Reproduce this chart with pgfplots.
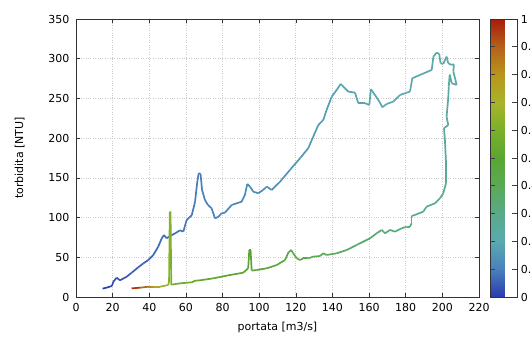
\documentclass[border=0pt]{standalone}
\usepackage{pgfplots}
\pgfplotsset{compat=1.18}
\usepackage{fontspec}
\setmainfont{DejaVu Sans}
\pgfplotsset{colormap={tb}{rgb255(0cm)=(42,58,176); rgb255(1cm)=(74,128,187); rgb255(2cm)=(90,170,176); rgb255(3cm)=(90,170,138); rgb255(4cm)=(90,170,85); rgb255(5cm)=(90,166,50); rgb255(6cm)=(122,176,42); rgb255(7cm)=(168,180,42); rgb255(8cm)=(184,149,28); rgb255(9cm)=(181,97,26); rgb255(10cm)=(168,28,8)}}
\begin{document}
\begin{tikzpicture}
\clip (-76pt,-46pt) rectangle (456pt,297pt);
\begin{axis}[
  at={(0,0)}, anchor=south west,
  scale only axis, width=403pt, height=278pt,
  xmin=0, xmax=220, ymin=0, ymax=350,
  xtick={0,20,...,220}, ytick={0,50,...,350},
  tick align=inside, xtick pos=both, ytick pos=both,
  major tick length=4pt,
  grid=major,
  grid style={dotted, gray!40, line width=0.7pt},
  axis line style={black!80, line width=0.6pt},
  tick style={black!80, line width=0.6pt},
  font=\fontsize{11}{13}\selectfont,
  /pgf/number format/assume math mode=true,
  xticklabel style={yshift=-3pt},
  yticklabel style={xshift=-3pt},
  xlabel={portata [m3/s]}, ylabel={torbidita [NTU]},
  xlabel style={at={(axis description cs:0.5,-0.108)}, anchor=center},
  ylabel style={at={(axis description cs:-0.14,0.5)}, anchor=center, rotate=0},
  colormap name=tb,
  point meta min=0, point meta max=1,
  colorbar,
  colorbar style={
    width=27pt,
    xshift=-11pt,
    ytick={0,0.1,...,1},
    yticklabels={0,0.1,0.2,0.3,0.4,0.5,0.6,0.7,0.8,0.9,1},
    ytick align=inside,
    major tick length=5pt,
    ytick pos=both,
    yticklabel pos=right,
    tick style={black!75, line width=0.7pt},
    axis line style={black!80, line width=0.6pt},
    font=\fontsize{11}{13}\selectfont,
  },
]
\addplot[mesh, point meta=explicit, line width=1.7pt, line join=round] table[meta=c] {
x y c
14.5 10.5 0
17 12 .013
19.6 13.9 .022
20.4 19.3 .031
22.2 24.3 .035
24 21 .039
27.7 25.6 .046
30.4 30.6 .050
34 37.4 .054
36.8 42.4 .057
39.5 46.6 .061
42.2 52.9 .064
44.9 63.4 .068
46.8 73.9 .071
48 78 .074
49.5 73.9 .075
51.3 76.8 .077
54 80 .081
56.8 84 .084
58.6 82.3 .086
60.4 97 .087
63.2 103 .090
65 120 .093
66.2 145 .097
67 155.8 .098
68 155 .100
68.8 135 .101
70.4 122 .103
72 116 .106
74 111.7 .107
75.9 99 .109
77.7 101 .111
79.5 105.4 .112
81.3 106.2 .115
85 115.9 .118
90.4 120 .123
92.2 128.5 .126
93.5 142.3 .129
95 139 .130
96.8 132.6 .132
99.5 130.6 .135
102.2 134.8 .138
104.1 139 .141
106.8 134.8 .143
111.4 145.2 .146
116.8 160 .152
122.3 174.7 .157
126.8 187.3 .163
129.5 201.9 .165
132.3 216.6 .168
135 222.9 .171
136.8 235.5 .173
139.6 252.3 .176
142.3 260.7 .179
144.5 268.3 .181
146.8 262.8 .184
148.6 258.6 .185
152.3 257.3 .187
154.1 244 .189
157.8 244 .190
160.1 241.8 .192
161 261.6 .193
163.2 254.4 .195
165.6 246 .196
167.2 238.9 .197
169.6 243 .198
173.2 246 .200
176.9 254.4 .202
182.3 258.6 .205
183.6 275.4 .206
187.8 279.6 .207
194.2 285.9 .210
195.1 302.7 .211
196.9 307.7 .212
198.3 306 .213
199 294.3 .215
200.5 293.5 .216
202.3 302.7 .218
203.2 294.3 .219
205.1 292.2 .220
206.3 293 .222
206 283.8 .224
207.8 267 .228
205.1 269.1 .230
204 280 .232
203.5 265 .234
203.2 250.3 .236
202.3 227 .240
203.2 216.6 .244
200.9 212.5 .248
201.4 197.5 .252
202 168.4 .260
202 143.2 .268
200.5 130.6 .276
198.7 124.3 .280
196 118 .284
191.4 113.8 .288
189.6 107.5 .292
185 103.3 .296
183.2 102 .300
183.2 92.8 .303
182.3 88.5 .306
180.5 88.5 .310
177.8 86.5 .313
174.1 82.3 .319
171.4 84.4 .325
168.7 80.2 .328
166.9 84.4 .332
164.1 80.2 .338
160.5 73.9 .345
153.2 65.5 .357
147.8 59.2 .364
142.3 55 .376
136.8 52.9 .389
135 55 .392
133.2 51.6 .395
129.5 50.8 .402
126.8 48.7 .408
124.1 48.7 .415
122.3 46.6 .421
120.5 48.7 .427
118.6 55 .434
117.4 59.2 .440
115.9 55.8 .446
114.1 46.6 .453
109.6 40.3 .465
104.1 36.1 .478
98.6 34 .485
95.9 33.2 .491
95.3 59.2 .494
94.6 59.2 .496
94 36.1 .499
91.3 30.6 .504
84.1 27.7 .516
74.9 23.5 .529
67.7 21 .542
65 20.5 .548
63.2 18.5 .555
56.8 17.2 .567
52 15.5 .580
51.6 107.5 .620
51.2 107 .630
50.8 20 .635
50.4 15.1 .640
45.9 13 .700
42 13 .780
39.5 13 .850
34.9 11.7 .930
30.4 10.9 1
};
\end{axis}
\end{tikzpicture}
\end{document}
